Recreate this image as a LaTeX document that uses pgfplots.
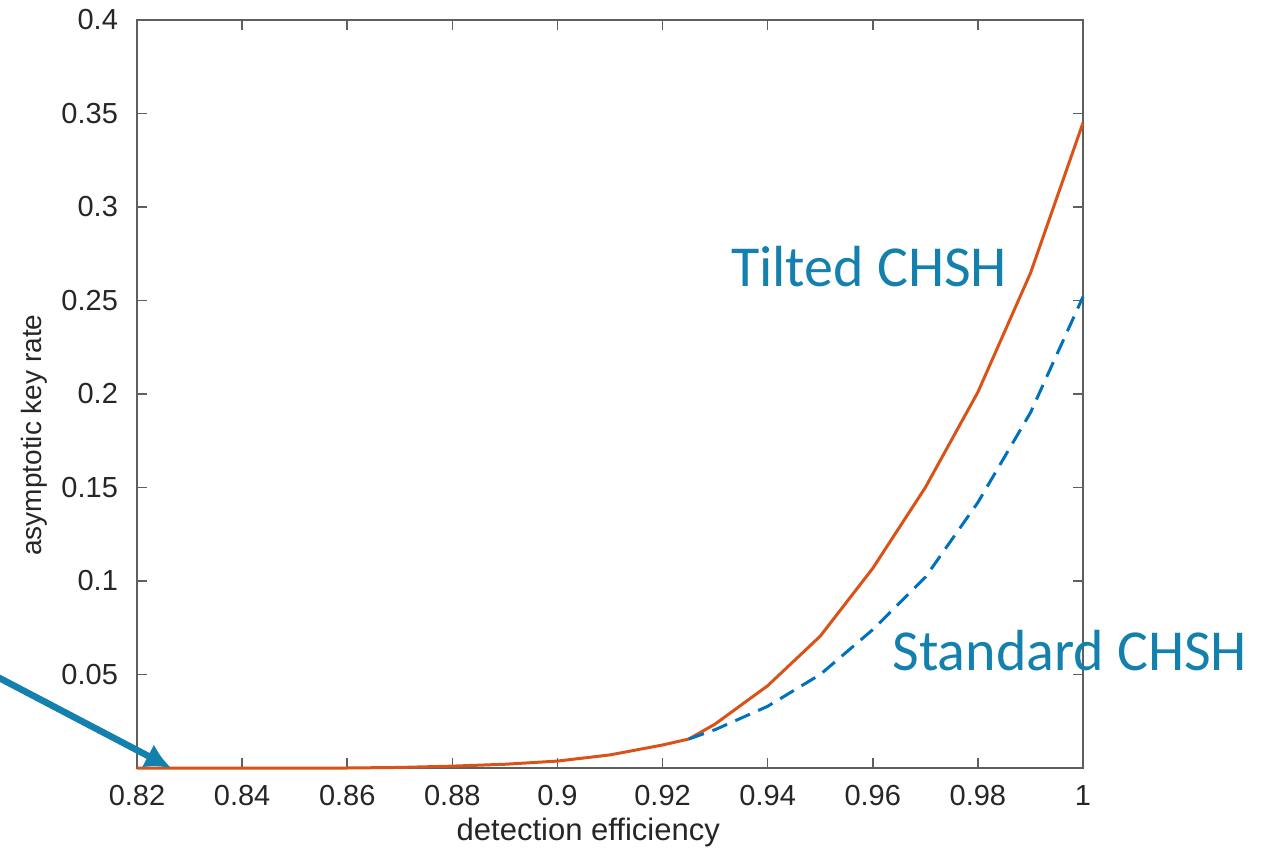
\documentclass[border=0pt]{standalone}
\usepackage{fontspec}
\setmainfont{Liberation Sans}
\newfontfamily\carlito{Carlito}
\usepackage{pgfplots}
\pgfplotsset{compat=1.18}
\usetikzlibrary{arrows.meta}
\definecolor{mlred}{rgb}{0.85,0.325,0.098}
\definecolor{mlblue}{rgb}{0,0.447,0.741}
\definecolor{annblue}{RGB}{20,128,174}
\definecolor{axgray}{RGB}{95,95,95}
\definecolor{txtgray}{RGB}{38,38,38}

\begin{document}
\begin{tikzpicture}
\useasboundingbox (-68.5pt,-44.5pt) rectangle (566pt,384pt);
\begin{axis}[
    at={(0pt,0pt)}, anchor=south west,
    scale only axis,
    width=473pt, height=374pt,
    xmin=0.82, xmax=1, ymin=0, ymax=0.4,
    xtick={0.82,0.84,0.86,0.88,0.9,0.92,0.94,0.96,0.98,1},
    xticklabels={0.82,0.84,0.86,0.88,0.9,0.92,0.94,0.96,0.98,1},
    ytick={0.05,0.1,0.15,0.2,0.25,0.3,0.35,0.4},
    yticklabels={0.05,0.1,0.15,0.2,0.25,0.3,0.35,0.4},
    tick align=inside,
    major tick length=5pt,
    axis line style={axgray, line width=0.8pt},
    tick style={axgray, line width=0.8pt},
    tick label style={font=\fontsize{14.5}{17}\selectfont, text=txtgray},
    yticklabel style={xshift=-6pt},
    xticklabel style={yshift=-5pt},
    xlabel={detection efficiency},
    ylabel={asymptotic key rate},
    xlabel style={at={(ticklabel cs:0.477)}, font=\fontsize{15.5}{18}\selectfont, text=txtgray, yshift=0.5pt},
    ylabel style={at={(ticklabel cs:0.445)}, font=\fontsize{14}{17}\selectfont, text=txtgray},
    clip=false,
]
\addplot[mlred, line width=1.5pt] coordinates {
 (0.82,0) (0.83,0) (0.84,0) (0.85,0) (0.86,0) (0.87,0.0003) (0.88,0.001)
 (0.89,0.002) (0.90,0.0037) (0.91,0.007) (0.92,0.0123) (0.925,0.0155)
 (0.93,0.0235) (0.94,0.044) (0.95,0.0705) (0.96,0.1068) (0.97,0.150)
 (0.98,0.201) (0.99,0.2646) (1.0,0.345)
};
\addplot[mlblue, line width=1.5pt, dash pattern=on 8pt off 4.5pt] coordinates {
 (0.925,0.0155) (0.93,0.0205) (0.94,0.033) (0.95,0.050) (0.96,0.074)
 (0.97,0.102) (0.98,0.142) (0.99,0.190) (1.0,0.252)
};
\node[text=annblue, font=\carlito\fontsize{29}{32}\selectfont] at (axis cs:0.9593,0.268) {Tilted CHSH};
\node[text=annblue, font=\carlito\fontsize{29}{32}\selectfont] at (axis cs:0.9975,0.063) {Standard CHSH};
\draw[annblue, line width=3.3pt, -{Latex[length=13pt,width=13pt]}]
  (rel axis cs:-0.148,0.122) -- (axis cs:0.8265,0);
\end{axis}
\end{tikzpicture}
\end{document}
